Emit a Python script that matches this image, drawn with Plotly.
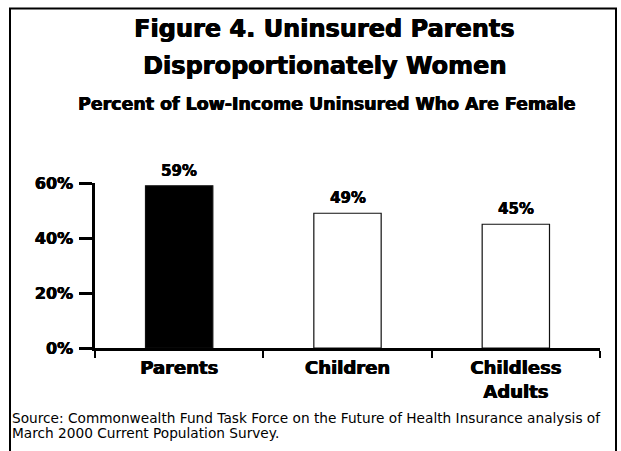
import plotly.graph_objects as go

categories = ["Parents", "Children", "Childless<br>Adults"]
values = [59, 49, 45]
value_labels = ["59%", "49%", "45%"]
bar_colors = ["#000000", "#ffffff", "#ffffff"]
y_ticks = [0, 20, 40, 60]
y_tick_labels = ["0%", "20%", "40%", "60%"]

title1 = "Figure 4. Uninsured Parents"
title2 = "Disproportionately Women"
subtitle = "Percent of Low-Income Uninsured Who Are Female"
source1 = "Source: Commonwealth Fund Task Force on the Future of Health Insurance analysis of"
source2 = "March 2000 Current Population Survey."

W, H = 621, 451
L, R, T, B = 95, 21, 183, 103
PW = W - L - R
PH = H - T - B


def xp(px):
    return (px - L) / PW


def yp(py):
    return (H - B - py) / PH


HEAVY = "DejaVu Sans, sans-serif"
SHADOW = "0.6px 0 0 #000, -0.3px 0 0 #000"
SHADOW_S = "0.4px 0 0 #000, -0.2px 0 0 #000"


def heavy(size, shadow=SHADOW):
    return dict(family=HEAVY, size=size, color="#000", weight=700, shadow=shadow)


fig = go.Figure()
fig.add_trace(go.Bar(
    x=categories, y=values,
    marker=dict(color=bar_colors, line=dict(color="#111111", width=1.2)),
    width=0.4, showlegend=False, hoverinfo="skip",
))

annotations = []
for c, v, t in zip(categories, values, value_labels):
    annotations.append(dict(x=c, y=v, xref="x", yref="y", text=t, showarrow=False,
                            yanchor="bottom", yshift=4, font=heavy(15, SHADOW_S)))

annotations += [
    dict(x=xp(324), y=yp(28.5), xref="paper", yref="paper", text=title1, showarrow=False,
         xanchor="center", yanchor="middle", font=heavy(24)),
    dict(x=xp(324), y=yp(65.5), xref="paper", yref="paper", text=title2, showarrow=False,
         xanchor="center", yanchor="middle", font=heavy(24)),
    dict(x=xp(326.5), y=yp(104.5), xref="paper", yref="paper", text=subtitle, showarrow=False,
         xanchor="center", yanchor="middle", font=heavy(17.4)),
    dict(x=xp(10), y=yp(417.5), xref="paper", yref="paper", text=source1, showarrow=False,
         xanchor="left", yanchor="middle",
         font=dict(family="DejaVu Sans, sans-serif", size=13.7, color="#000")),
    dict(x=xp(10), y=yp(432.5), xref="paper", yref="paper", text=source2, showarrow=False,
         xanchor="left", yanchor="middle",
         font=dict(family="DejaVu Sans, sans-serif", size=13.7, color="#000")),
]

shapes = [
    dict(type="line", xref="paper", yref="paper", x0=xp(10), x1=xp(10), y0=yp(8.5), y1=yp(470),
         line=dict(color="#000", width=2)),
    dict(type="line", xref="paper", yref="paper", x0=xp(9), x1=xp(617), y0=yp(8.5), y1=yp(8.5),
         line=dict(color="#000", width=2)),
    dict(type="line", xref="paper", yref="paper", x0=xp(616), x1=xp(616), y0=yp(8.5), y1=yp(470),
         line=dict(color="#000", width=2)),
]

fig.update_layout(
    width=W, height=H,
    margin=dict(l=L, r=R, t=T, b=B, pad=0),
    paper_bgcolor="#ffffff", plot_bgcolor="#ffffff",
    annotations=annotations, shapes=shapes,
    bargap=0.6,
)
fig.update_xaxes(
    showline=True, linecolor="#000", linewidth=2.5,
    ticks="outside", tickson="boundaries", ticklen=7, tickwidth=2, tickcolor="#000",
    ticklabelstandoff=2,
    tickfont=heavy(18),
    showgrid=False, zeroline=False, fixedrange=True,
)
fig.update_yaxes(
    range=[0, 60], tickvals=y_ticks, ticktext=y_tick_labels,
    showline=True, linecolor="#000", linewidth=2.5,
    ticks="outside", ticklen=13, tickwidth=2.5, tickcolor="#000",
    ticklabelstandoff=3,
    tickfont=heavy(16, SHADOW_S),
    showgrid=False, zeroline=False, fixedrange=True,
)

fig.write_html("out.html", config={"displayModeBar": False})
